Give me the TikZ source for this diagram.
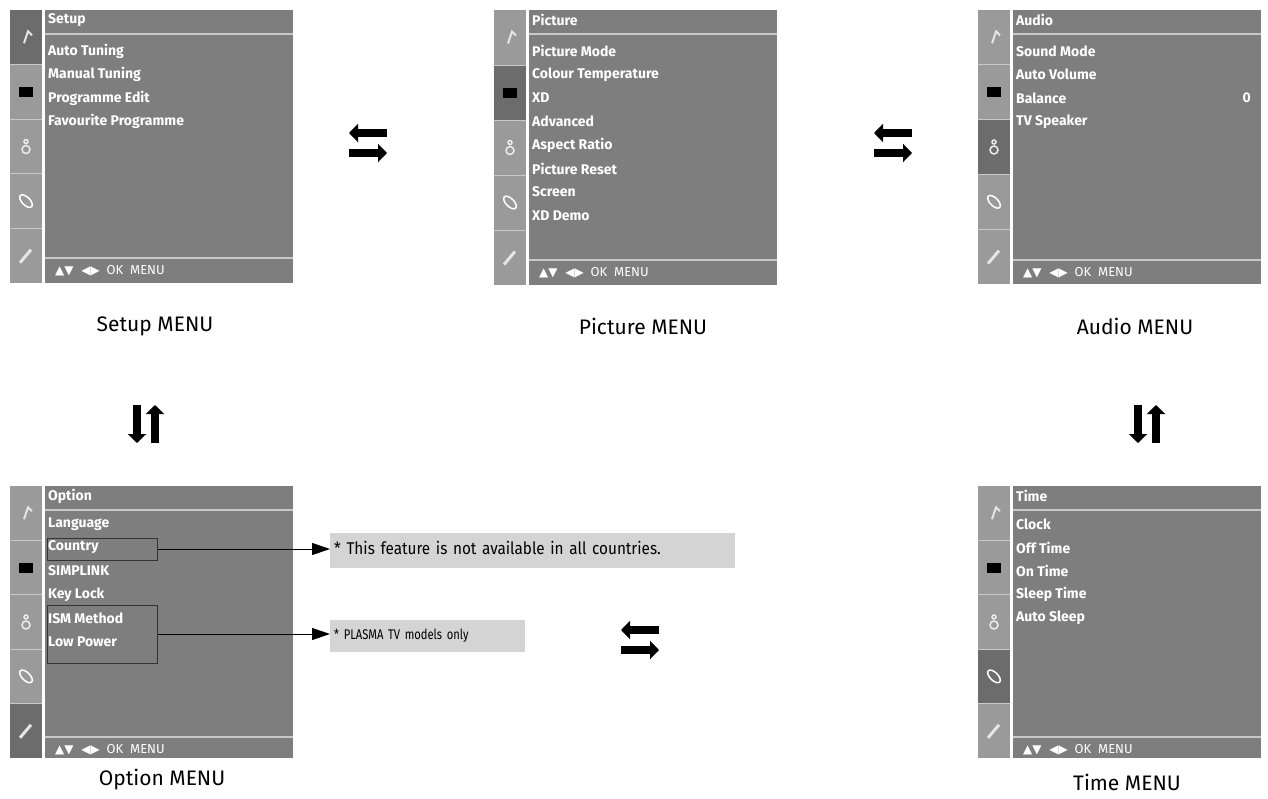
\documentclass[tikz,border=0pt]{standalone}
\usepackage{fontspec}
\setmainfont{Fira Sans}
\newfontfamily\symf{DejaVu Sans}
\usetikzlibrary{arrows.meta}
\definecolor{mgray}{HTML}{7E7E7E}
\definecolor{igray}{HTML}{9A9A9A}
\definecolor{hgray}{HTML}{6C6C6C}
\definecolor{lgray}{HTML}{C8C8C8}
\definecolor{ngray}{HTML}{D4D4D4}
\tikzset{
  item/.style={anchor=west,text=white,font=\fontsize{14}{14}\selectfont\bfseries,inner sep=0pt},
  foot/.style={anchor=west,text=white,font=\fontsize{13}{13}\selectfont,inner sep=0pt},
  mcap/.style={font=\fontsize{21}{21}\selectfont},
  fat/.style={line width=8pt,-{Triangle[length=9pt,width=18pt]}},
  note/.style={fill=ngray,anchor=west,inner sep=4pt,align=left,font=\fontsize{17}{17}\selectfont\addfontfeature{FakeStretch=0.9}},
}
\newcommand{\mymenu}[6]{%
  \begin{scope}[shift={(#1,#2)}]
    \fill[mgray] (35,0) rectangle (283,#3);
    \fill[igray] (0,0) rectangle (32,#3);
    \pgfmathsetmacro{\seg}{#3/5}
    \fill[hgray] (0,{(#4-1)*\seg}) rectangle (32,{#4*\seg});
    \foreach \k in {1,...,4}{\draw[lgray,line width=1pt] (0,{\k*\seg}) -- (32,{\k*\seg});}
    \draw[lgray,line width=1.2pt] (35,24) -- (283,24);
    \draw[lgray,line width=1.2pt] (35,#5) -- (283,#5);
    \node[item] (#6h) at (38,10) {#6};
    \node[foot] (#6f) at (45,{#5+13}) {{\symf\fontsize{12}{12}\selectfont▲▼\ \ ◀▶}\ \ OK \ MENU};
    \draw[white!80!gray,line width=2pt] (14,{0.5*\seg+6}) -- (18,{0.5*\seg-6}) -- (22,{0.5*\seg-2});
    \fill[black] (9,{1.5*\seg-5}) rectangle (23,{1.5*\seg+5});
    \draw[white!85!gray,line width=1.5pt] (16,{2.5*\seg+3}) circle (4) (16,{2.5*\seg-5}) circle (2);
    \draw[white,line width=1.5pt,rotate around={45:(16,{3.5*\seg})}] (16,{3.5*\seg}) ellipse (4 and 8);
    \draw[white!80!gray,line width=3pt] (10,{4.5*\seg+7}) -- (21,{4.5*\seg-6});
  \end{scope}}
\begin{document}
\begin{tikzpicture}[x=1pt,y=-1pt]
\useasboundingbox (0,0) rectangle (1268,798);
\fill[white] (0,0) rectangle (1268,798);
\mymenu{10}{10}{273}{1}{248}{Setup}
\foreach \t [count=\i] in {Auto Tuning,Manual Tuning,Programme Edit,Favourite Programme}{\node[item] at (48,{51+(\i-1)*23.5}) {\t};}
\mymenu{494}{10}{275}{2}{250}{Picture}
\foreach \t [count=\i] in {Picture Mode,Colour Temperature,XD,Advanced,Aspect Ratio,Picture Reset,Screen,XD Demo}{\node[item] at (532,{51+(\i-1)*23.5}) {\t};}
\mymenu{978}{10}{274}{3}{250}{Audio}
\foreach \t [count=\i] in {Sound Mode,Auto Volume,Balance,TV Speaker}{\node[item] at (1016,{51+(\i-1)*23.5}) {\t};}
\node[item,anchor=east] (bal) at (1251,98) {0};
\mymenu{10}{486}{272}{5}{251}{Option}
\foreach \t [count=\i] in {Language,Country,SIMPLINK,Key Lock,ISM Method,Low Power}{\node[item] at (48,{524+(\i-1)*23.5}) {\t};}
\mymenu{978}{486}{272}{4}{251}{Time}
\foreach \t [count=\i] in {Clock,Off Time,On Time,Sleep Time,Auto Sleep}{\node[item] at (1016,{524+(\i-1)*23.5}) {\t};}
\node[mcap] (c1) at (155,326) {Setup MENU};
\node[mcap] (c2) at (643,326) {Picture MENU};
\node[mcap] (c3) at (1135,326) {Audio MENU};
\node[mcap] (c4) at (162,780) {Option MENU};
\node[mcap] (c5) at (1127,782) {Time MENU};
\node[draw=black!80,line width=1pt,minimum width=110pt,minimum height=22pt,inner sep=0pt] (bc) at (102,549) {};
\node[draw=black!80,line width=1pt,minimum width=110pt,minimum height=58pt,inner sep=0pt] (bi) at (102,634) {};
\node[note,text width=397pt,minimum height=35pt,anchor=north west,inner ysep=3pt] (n1) at (330,533) {* This feature is not available in all countries.\strut};
\node[note,text width=187pt,minimum height=32pt,anchor=north west,font=\fontsize{14}{14}\selectfont\addfontfeature{FakeStretch=0.8}] (n2) at (330,620) {* PLASMA TV models only};
\draw[line width=1pt,-{Triangle[length=18pt,width=12pt]}] (bc.east) -- (bc.east -| n1.west);
\draw[line width=1pt,-{Triangle[length=18pt,width=12pt]}] (bi.east) -- (bi.east -| n2.west);
\foreach \x/\y [count=\j] in {368/143,893/143,640/640}{
  \coordinate (sa\j) at (\x+19,\y-10); \coordinate (sb\j) at (\x-19,\y-10);
  \coordinate (sc\j) at (\x-19,\y+10); \coordinate (sd\j) at (\x+19,\y+10);
  \draw[fat] (sa\j) -- (sb\j);
  \draw[fat] (sc\j) -- (sd\j);}
\foreach \x/\y [count=\j] in {146/424,1147/424}{
  \coordinate (va\j) at (\x-9,\y-19); \coordinate (vb\j) at (\x-9,\y+19);
  \coordinate (vc\j) at (\x+9,\y+19); \coordinate (vd\j) at (\x+9,\y-19);
  \draw[fat] (va\j) -- (vb\j);
  \draw[fat] (vc\j) -- (vd\j);}
\end{tikzpicture}
\end{document}
